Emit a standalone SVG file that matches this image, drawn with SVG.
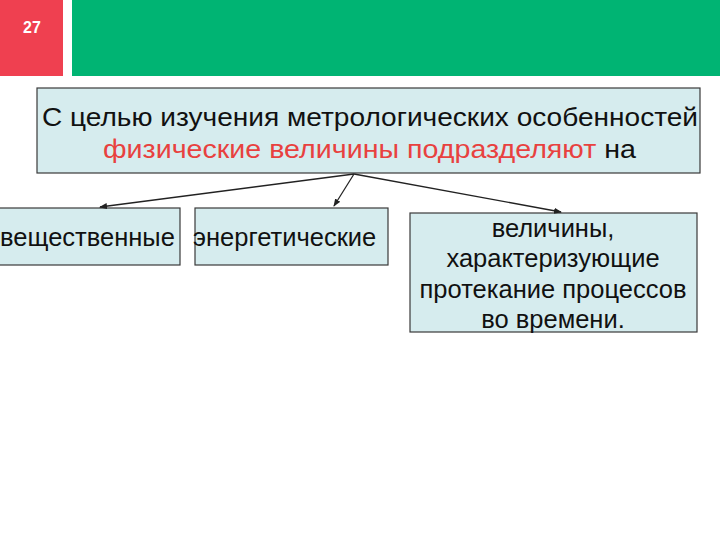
<svg xmlns="http://www.w3.org/2000/svg" width="720" height="540" viewBox="0 0 720 540">
<style>
.box{fill:#d6ecee;stroke:#3a3a3a;stroke-width:1.2}
.t{font-family:"Liberation Sans",Arial,sans-serif;font-size:25.5px;fill:#111}
.c{stroke:#222;stroke-width:1.3;fill:none;marker-end:url(#a)}
</style>
<defs><marker id="a" markerWidth="8" markerHeight="8" refX="7" refY="4" orient="auto" markerUnits="userSpaceOnUse"><path d="M0,1L8,4L0,7Z" fill="#222"/></marker></defs>
<rect width="720" height="540" fill="#fff"/>
<g id="header">
<rect x="0" y="0" width="63" height="76" fill="#ef4050"/>
<text x="32" y="33" text-anchor="middle" font-family="Liberation Sans,Arial,sans-serif" font-size="16" font-weight="bold" fill="#fff">27</text>
<rect x="72" y="0" width="648" height="76" fill="#00b473"/>
</g>
<g id="main">
<rect class="box" x="37" y="88" width="663" height="85"/>
<text class="t" x="42" y="126" textLength="656" lengthAdjust="spacingAndGlyphs">С целью изучения метрологических особенностей</text>
<text class="t" x="103" y="158" textLength="533" lengthAdjust="spacingAndGlyphs"><tspan fill="#e8413f">физические величины  подразделяют</tspan> на</text>
</g>
<g id="n1"><rect class="box" x="-2" y="208" width="182" height="57"/>
<text class="t" x="0" y="246">вещественные</text></g>
<g id="n2"><rect class="box" x="195" y="208" width="193" height="57"/>
<text class="t" x="193" y="246">энергетические</text></g>
<g id="n3"><rect class="box" x="410" y="213" width="287" height="119"/>
<text class="t" x="553" y="237" text-anchor="middle">величины,</text>
<text class="t" x="553" y="267" text-anchor="middle">характеризующие</text>
<text class="t" x="553" y="298" text-anchor="middle">протекание процессов</text>
<text class="t" x="553" y="328" text-anchor="middle">во времени.</text></g>
<g id="connectors">
<path class="c" d="M354,174L100,207"/>
<path class="c" d="M354,174L334,206"/>
<path class="c" d="M354,174L561,212"/>
</g>
</svg>
